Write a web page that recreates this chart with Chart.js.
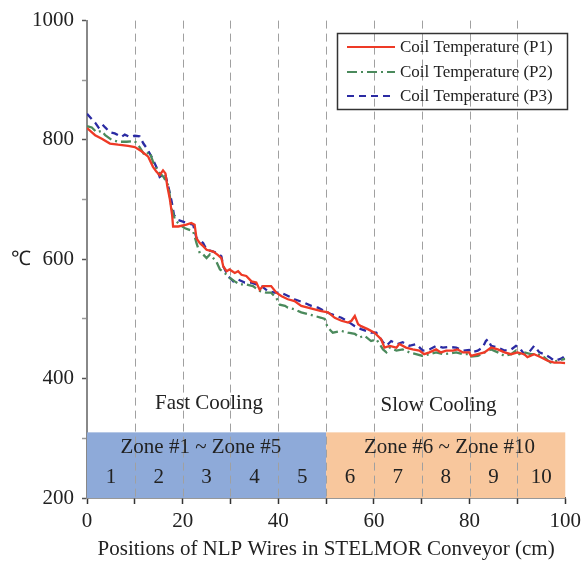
<!DOCTYPE html>
<html>
<head>
<meta charset="utf-8">
<script src="https://cdn.jsdelivr.net/npm/chart.js@4.4.0/dist/chart.umd.min.js"></script>
<style>
html, body { margin: 0; padding: 0; background: #fff; }
</style>
</head>
<body>
<canvas id="myChart" width="586" height="562"></canvas>
<script>
// position (cm) / temperature (C)
var posP1 = [0, 1.7, 3.1, 4.8, 6.5, 8.6, 10, 11.4, 12.8, 13.8, 14.5, 15.2, 15.9, 16.4, 16.8, 17.3, 17.8, 18, 19.1, 20.8,
    21.8, 22.5, 22.9, 23.6, 24.3, 25, 26.4, 27.4, 28.1, 28.5, 29.2, 29.8, 30.9, 31.6, 32.3, 33.3, 34.4, 35.4, 36.1, 36.8,
    37.8, 38.5, 39.6, 40.7, 42, 43.4, 44.8, 46.2, 47.6, 49, 50.4, 51.8, 53.2, 54.6, 55.3, 56, 56.7, 57.3, 58.7, 60.1,
    61.5, 62.2, 63.3, 64.7, 65.3, 66.7, 68.1, 69.5, 70.5, 71.6, 73, 74, 75.1, 76.5, 77.5, 78.6, 79.9, 80.3, 81.7, 83.1,
    84.5, 85.9, 87.3, 88.7, 90, 91.4, 92.1, 93.5, 94.9, 96.3, 97.7, 99, 100]
var tempP1 = [820, 808, 802, 794, 792, 790, 788, 781, 772, 755, 747, 741, 749, 744, 722, 702, 674, 655, 655, 658,
    661, 658, 635, 627, 622, 616, 613, 607, 602, 588, 580, 583, 577, 580, 574, 572, 563, 561, 549, 555,
    555, 555, 544, 538, 533, 530, 522, 519, 516, 513, 511, 502, 497, 494, 497, 505, 491, 488, 483, 477,
    466, 452, 455, 452, 458, 452, 449, 447, 441, 444, 449, 444, 447, 447, 449, 444, 444, 438, 441, 444,
    452, 449, 444, 441, 444, 441, 436, 441, 436, 430, 427, 427, 426]

var posP2 = [0, 1, 2, 3.1, 3.8, 5.2, 6.5, 8.3, 10, 11, 12.1, 13.1, 13.9, 14.9, 16, 17, 17.7, 18.4, 19.4, 20.5,
    22.2, 22.9, 23.6, 24.3, 25, 25.7, 27, 27.8, 28.8, 29.8, 30.9, 31.9, 33.3, 34.7, 36.1, 37.5, 38.5, 39.6, 40.3, 41.4,
    42, 43.4, 44.8, 46.2, 47.6, 49, 49.7, 50.3, 51.4, 53.2, 54.6, 56, 57, 58, 59.4, 60.5, 61.9, 62.6, 63.3, 64.7,
    66, 67.4, 68.8, 70.2, 71.6, 73, 74.4, 75.8, 77.2, 78.6, 79.9, 80.3, 81.7, 83.1, 84.5, 85.9, 87.3, 88.7, 89.7, 90.4,
    91.4, 92.8, 94.2, 95.6, 96.9, 98.3, 100]
var tempP2 = [823, 821, 813, 815, 808, 800, 797, 797, 798, 788, 774, 780, 761, 747, 738, 724, 685, 666, 658, 652,
    647, 627, 610, 608, 602, 608, 597, 583, 577, 569, 563, 558, 558, 555, 547, 544, 544, 535, 524, 522,
    519, 516, 511, 508, 505, 502, 500, 486, 477, 480, 477, 475, 469, 472, 463, 466, 449, 444, 452, 447,
    449, 444, 441, 438, 441, 444, 441, 442, 444, 441, 441, 437, 438, 444, 449, 444, 438, 441, 447, 441,
    444, 441, 441, 436, 427, 430, 433]

var posP3 = [0, 1, 1.7, 2.4, 3.1, 3.8, 4.8, 5.8, 7.2, 7.9, 9, 10, 11, 11.8, 12.5, 13.5, 14.5, 15.2, 16.3, 17,
    17.7, 18.2, 19, 20.8, 22.2, 22.9, 23.6, 24.3, 25, 26.4, 27.4, 28.1, 28.5, 29.5, 30.6, 31.6, 33, 34.4, 35.4, 36.5,
    37.8, 39.2, 40.3, 41.4, 43.4, 45.5, 46.9, 48.3, 49.7, 51.1, 53.2, 54.3, 56, 57.3, 59.4, 60.5, 61.9, 62.6, 63.6, 64.9,
    66, 67.4, 68.8, 70.2, 71.6, 73, 74.4, 75.8, 77.2, 78.6, 79.9, 80.3, 81.7, 82.7, 83.4, 83.8, 84.5, 85.9, 87.3, 88.7,
    89.7, 90.4, 91.4, 92.4, 93.5, 94.6, 95.6, 96.7, 97.7, 99, 100]
var tempP3 = [844, 835, 829, 821, 827, 821, 813, 811, 805, 809, 805, 807, 806, 794, 786, 772, 755, 738, 744, 722,
    697, 674, 666, 661, 658, 635, 633, 627, 616, 613, 610, 605, 588, 572, 563, 566, 561, 561, 558, 555,
    547, 544, 544, 541, 533, 527, 522, 519, 513, 508, 502, 497, 488, 483, 477, 477, 461, 455, 463, 458,
    461, 455, 458, 447, 449, 455, 452, 453, 452, 447, 448, 444, 447, 452, 463, 466, 455, 452, 447, 449,
    455, 452, 441, 444, 455, 444, 441, 436, 430, 433, 438]

var seriesNames = ['Coil Temperature (P1)', 'Coil Temperature (P2)', 'Coil Temperature (P3)']
var seriesColors = ['#ee3a26', '#4b8a5c', '#2b2ba3']
var seriesDash = [[], [10, 4, 2, 4], [7, 5]]

var zoneNumbers = ['1', '2', '3', '4', '5', '6', '7', '8', '9', '10']
var zoneCenters = [5, 15, 25, 35, 45, 55, 65, 75, 85, 95]
var guideLines = [10, 20, 30, 40, 50, 60, 70, 80, 90]
var zoneTop = 310

var serif = '"Liberation Serif", "Times New Roman", serif'

function pts(xs, ys) {
    var out = []
    for (var i = 0; i < xs.length; i++) out.push({x: xs[i], y: ys[i]})
    return out
}

var allPos = [posP1, posP2, posP3]
var allTemp = [tempP1, tempP2, tempP3]
var datasets = []
for (var i = 0; i < 3; i++) {
    datasets.push({
        label: seriesNames[i],
        data: pts(allPos[i], allTemp[i]),
        borderColor: seriesColors[i],
        borderDash: seriesDash[i],
        borderWidth: 2.3,
        pointRadius: 0,
        tension: 0,
        fill: false
    })
}

var zonePlugin = {
    id: 'zones',
    beforeDatasetsDraw: function (chart) {
        var ctx = chart.ctx
        var xs = chart.scales.x, ys = chart.scales.y
        var area = chart.chartArea
        var top = ys.getPixelForValue(zoneTop), bot = ys.getPixelForValue(200)
        var x0 = xs.getPixelForValue(0), x50 = xs.getPixelForValue(50), x100 = xs.getPixelForValue(100)
        ctx.save()
        ctx.fillStyle = '#8eaad9'
        ctx.fillRect(x0, top, x50 - x0, bot - top)
        ctx.fillStyle = '#f8c79d'
        ctx.fillRect(x50, top, x100 - x50, bot - top)

        ctx.strokeStyle = '#a0a0a0'
        ctx.lineWidth = 1
        ctx.setLineDash([8, 5])
        guideLines.forEach(function (g) {
            var px = Math.round(xs.getPixelForValue(g)) + 0.5
            ctx.beginPath()
            ctx.moveTo(px, area.top)
            ctx.lineTo(px, area.bottom)
            ctx.stroke()
        })
        ctx.setLineDash([])

        ctx.fillStyle = '#222'
        ctx.font = '21px ' + serif
        ctx.textAlign = 'center'
        ctx.textBaseline = 'middle'
        ctx.fillText('Fast Cooling', xs.getPixelForValue(25.5), ys.getPixelForValue(358))
        ctx.fillText('Slow Cooling', xs.getPixelForValue(73.5), ys.getPixelForValue(355))
        ctx.fillText('Zone #1 ~ Zone #5', xs.getPixelForValue(23.8), ys.getPixelForValue(284))
        ctx.fillText('Zone #6 ~ Zone #10', xs.getPixelForValue(75.8), ys.getPixelForValue(285))
        zoneNumbers.forEach(function (n, k) {
            ctx.fillText(n, xs.getPixelForValue(zoneCenters[k]), ys.getPixelForValue(234))
        })
        ctx.restore()
    },
    afterDraw: function (chart) {
        var ctx = chart.ctx
        var ys = chart.scales.y
        ctx.save()
        // unit label
        ctx.fillStyle = '#222'
        ctx.font = '20px ' + serif
        ctx.textAlign = 'center'
        ctx.textBaseline = 'middle'
        ctx.fillText('℃', 21, ys.getPixelForValue(600))

        // legend box
        ctx.strokeStyle = '#333'
        ctx.lineWidth = 1.5
        ctx.strokeRect(337.5, 33.5, 230, 76)
        var rows = [47, 72, 96]
        ctx.font = '17px ' + serif
        ctx.textAlign = 'left'
        for (var k = 0; k < 3; k++) {
            ctx.strokeStyle = seriesColors[k]
            ctx.lineWidth = 2
            ctx.setLineDash(seriesDash[k])
            ctx.beginPath()
            ctx.moveTo(347, rows[k])
            ctx.lineTo(395, rows[k])
            ctx.stroke()
            ctx.setLineDash([])
            ctx.fillStyle = '#222'
            ctx.fillText(seriesNames[k], 400, rows[k] + 1)
        }
        ctx.restore()
    }
}

var ctx = document.getElementById('myChart').getContext('2d')
var chart = new Chart(ctx, {
    type: 'line',
    data: {datasets: datasets},
    plugins: [zonePlugin],
    options: {
        responsive: false,
        animation: false,
        layout: {padding: {top: 18, right: 20, bottom: 0, left: 0}},
        plugins: {legend: {display: false}, tooltip: {enabled: false}},
        scales: {
            x: {
                type: 'linear',
                min: 0,
                max: 100,
                afterFit: function (s) { s.height = 64 },
                ticks: {
                    stepSize: 10,
                    padding: 5,
                    maxRotation: 0,
                    autoSkip: false,
                    color: '#222',
                    font: {family: serif, size: 21},
                    callback: function (v) { return v % 20 === 0 ? v : '' }
                },
                grid: {drawOnChartArea: false, drawTicks: true, tickLength: 6, tickColor: '#333', tickWidth: 1.5},
                border: {display: true, color: '#333', width: 1.5},
                title: {
                    display: true,
                    text: 'Positions of NLP Wires in STELMOR Conveyor (cm)',
                    color: '#222',
                    font: {family: serif, size: 21},
                    padding: {top: 0, bottom: 0}
                }
            },
            y: {
                min: 200,
                max: 1000,
                afterFit: function (s) { s.width = 87 },
                ticks: {
                    stepSize: 100,
                    padding: 8,
                    autoSkip: false,
                    color: '#222',
                    font: {family: serif, size: 21},
                    callback: function (v) { return v % 200 === 0 ? v : '' }
                },
                grid: {
                    drawOnChartArea: false,
                    drawTicks: true,
                    tickLength: 5,
                    tickColor: function (c) { return c.tick && c.tick.value % 200 === 0 ? '#555' : '#999' },
                    tickWidth: 1.5
                },
                border: {display: true, color: '#888', width: 2}
            }
        }
    }
})
</script>
</body>
</html>
